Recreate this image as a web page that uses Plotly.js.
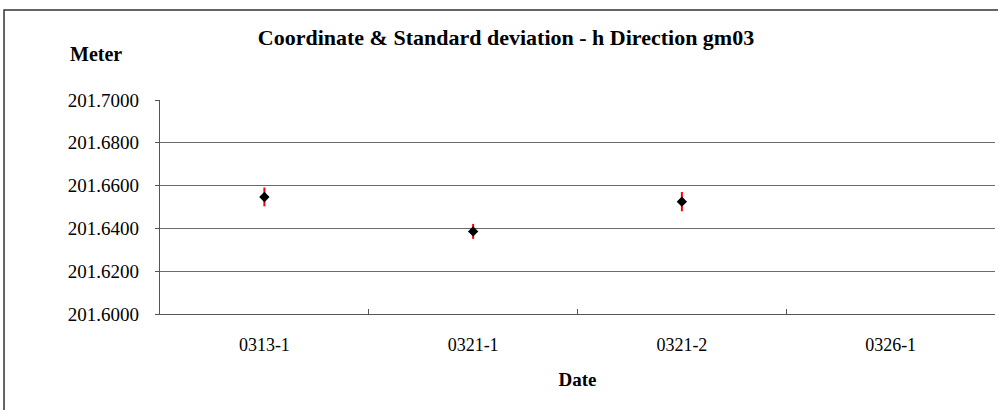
<!DOCTYPE html>
<html>
<head>
<meta charset="utf-8">
<script src="https://cdn.plot.ly/plotly-3.0.1.min.js"></script>
<style>
  html, body { margin: 0; padding: 0; background: #ffffff; }
  #chart { width: 998px; height: 410px; }
</style>
</head>
<body>
<div id="chart"></div>
<script>
// Survey epochs and the measured ellipsoidal height of station gm03
const dates = ['0313-1', '0321-1', '0321-2', '0326-1'];
const heights = [201.6547, 201.6386, 201.6525, null];
const stdDev = [0.0044, 0.0035, 0.0045, null];

// Axis settings
const yRange = [201.60, 201.70];
const yStep = 0.02;
const innerGrid = [201.62, 201.64, 201.66, 201.68];

const serif = 'Liberation Serif';

const trace = {
  type: 'scatter',
  mode: 'markers',
  x: dates,
  y: heights,
  marker: { symbol: 'diamond', size: 8, color: '#000000' },
  error_y: {
    type: 'data',
    array: stdDev,
    visible: true,
    color: '#ff0000',
    thickness: 2,
    width: 0
  },
  hoverinfo: 'x+y',
  showlegend: false
};

// Invisible helper trace on the overlay axis so its dark grid lines render
const gridTrace = {
  type: 'scatter',
  mode: 'markers',
  x: dates,
  y: heights,
  yaxis: 'y2',
  marker: { opacity: 0 },
  hoverinfo: 'skip',
  showlegend: false
};

const layout = {
  width: 998,
  height: 410,
  margin: { l: 160, r: 3, t: 100, b: 96 },
  paper_bgcolor: '#ffffff',
  plot_bgcolor: '#ffffff',
  font: { family: serif, color: '#000000', size: 19 },
  title: {
    text: '<b>Coordinate & Standard deviation - h Direction gm03</b>',
    font: { family: serif, size: 22, color: '#000000' },
    x: 0.507,
    xanchor: 'center',
    y: 0.91,
    yanchor: 'middle'
  },
  xaxis: {
    type: 'category',
    range: [-0.5, 3.5],
    showgrid: false,
    zeroline: false,
    showline: true,
    linecolor: '#555555',
    linewidth: 1.2,
    ticks: 'inside',
    tickson: 'boundaries',
    ticklen: 5,
    tickcolor: '#555555',
    tickfont: { family: serif, size: 18, color: '#000000' },
    ticklabelstandoff: 14,
    title: {
      text: '<b>Date</b>',
      font: { family: serif, size: 19, color: '#000000' },
      standoff: 19
    }
  },
  yaxis: {
    range: yRange,
    dtick: yStep,
    tick0: yRange[0],
    tickformat: '.4f',
    showgrid: true,
    gridcolor: '#e6e6e6',
    gridwidth: 1,
    zeroline: false,
    showline: true,
    linecolor: '#555555',
    linewidth: 1.2,
    ticks: 'outside',
    ticklen: 4,
    tickcolor: '#555555',
    tickfont: { family: serif, size: 19, color: '#000000' },
    ticklabelstandoff: 12
  },
  yaxis2: {
    overlaying: 'y',
    range: yRange,
    tickvals: innerGrid,
    showticklabels: false,
    showgrid: true,
    gridcolor: '#6b6b6b',
    gridwidth: 1,
    zeroline: false,
    showline: false,
    ticks: ''
  },
  annotations: [
    {
      text: '<b>Meter</b>',
      xref: 'paper', yref: 'paper',
      x: -0.0766, y: 1.215,
      xanchor: 'center', yanchor: 'middle',
      showarrow: false,
      font: { family: serif, size: 20, color: '#000000' }
    }
  ],
  shapes: [
    {
      type: 'rect',
      xref: 'paper', yref: 'paper',
      x0: -0.1868, x1: 1.02,
      y0: -0.5, y1: 1.4206,
      line: { color: '#333333', width: 1.5 },
      fillcolor: 'rgba(0,0,0,0)',
      layer: 'below'
    }
  ]
};

Plotly.newPlot('chart', [gridTrace, trace], layout, { displayModeBar: false, staticPlot: true });
</script>
</body>
</html>
